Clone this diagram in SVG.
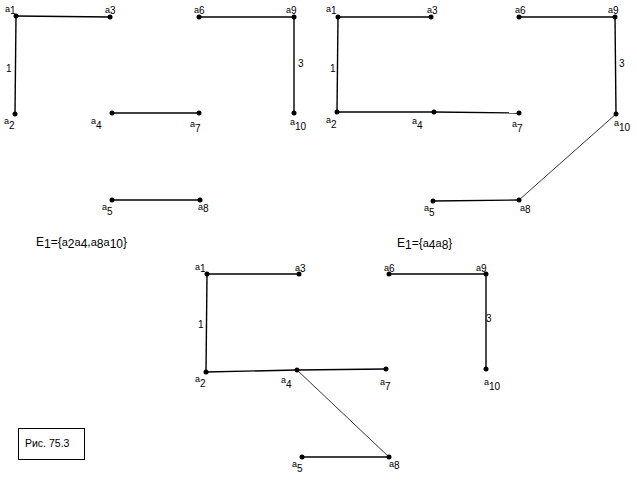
<svg xmlns="http://www.w3.org/2000/svg" width="637" height="484" viewBox="0 0 637 484">
<style>
text{font-family:"Liberation Sans",Arial,sans-serif;font-size:10px;fill:#000}
.a{font-size:9px}
text.e{font-size:12px}
text.e .a{font-size:11px}
line{stroke:#000;stroke-width:1.4}
line.thin{stroke-width:0.8}
circle{fill:#000}
</style>
<rect width="637" height="484" fill="#fff"/>
<g id="connectors">
<line x1="16" y1="16" x2="110" y2="17"/>
<line x1="16" y1="16" x2="15" y2="114"/>
<line x1="199" y1="17" x2="294" y2="17"/>
<line x1="294" y1="17" x2="294" y2="113"/>
<line x1="112" y1="113" x2="199" y2="113"/>
<line x1="112" y1="200" x2="200" y2="200"/>
<line x1="338" y1="17" x2="431" y2="17"/>
<line x1="338" y1="17" x2="337" y2="112"/>
<line x1="337" y1="112" x2="434" y2="112"/>
<line x1="434" y1="112" x2="519" y2="113"/>
<line x1="519" y1="17" x2="615" y2="17"/>
<line x1="615" y1="17" x2="616" y2="114"/>
<line class="thin" x1="616" y1="114" x2="519" y2="200"/>
<line x1="433" y1="201" x2="519" y2="200"/>
<line x1="207" y1="274" x2="299" y2="274"/>
<line x1="207" y1="274" x2="206" y2="372"/>
<line x1="206" y1="372" x2="297" y2="370"/>
<line x1="297" y1="370" x2="386" y2="369"/>
<line class="thin" x1="297" y1="370" x2="389" y2="457"/>
<line x1="302" y1="457" x2="389" y2="457"/>
<line x1="389" y1="274" x2="486" y2="274"/>
<line x1="486" y1="274" x2="486" y2="369"/>
</g>
<g id="g1">
<g id="g1-a1"><circle cx="16" cy="16" r="2.5"/><text x="5" y="12"><tspan class="a">a</tspan><tspan dy="2">1</tspan></text></g>
<g id="g1-a3"><circle cx="110" cy="17" r="2.5"/><text x="105" y="13"><tspan class="a">a</tspan><tspan dy="1">3</tspan></text></g>
<g id="g1-a6"><circle cx="199" cy="17" r="2.5"/><text x="194" y="13"><tspan class="a">a</tspan><tspan dy="1">6</tspan></text></g>
<g id="g1-a9"><circle cx="294" cy="17" r="2.5"/><text x="286" y="13"><tspan class="a">a</tspan><tspan dy="1">9</tspan></text></g>
<g id="g1-a2"><circle cx="15" cy="114" r="2.5"/><text x="4" y="124"><tspan class="a">a</tspan><tspan dy="5">2</tspan></text></g>
<g id="g1-a4"><circle cx="112" cy="113" r="2.5"/><text x="91" y="124"><tspan class="a">a</tspan><tspan dy="5">4</tspan></text></g>
<g id="g1-a7"><circle cx="199" cy="113" r="2.5"/><text x="190" y="127"><tspan class="a">a</tspan><tspan dy="5">7</tspan></text></g>
<g id="g1-a10"><circle cx="294" cy="113" r="2.5"/><text x="290" y="125"><tspan class="a">a</tspan><tspan dy="5">10</tspan></text></g>
<g id="g1-a5"><circle cx="112" cy="200" r="2.5"/><text x="102" y="210"><tspan class="a">a</tspan><tspan dy="5">5</tspan></text></g>
<g id="g1-a8"><circle cx="200" cy="200" r="2.5"/><text x="198" y="210"><tspan class="a">a</tspan><tspan dy="2">8</tspan></text></g>
<text x="6" y="72">1</text>
<text x="298" y="67">3</text>
</g>
<g id="g2">
<g id="g2-a1"><circle cx="338" cy="17" r="2.5"/><text x="326" y="12"><tspan class="a">a</tspan><tspan dy="2">1</tspan></text></g>
<g id="g2-a3"><circle cx="431" cy="17" r="2.5"/><text x="427" y="13"><tspan class="a">a</tspan><tspan dy="1">3</tspan></text></g>
<g id="g2-a6"><circle cx="519" cy="17" r="2.5"/><text x="515" y="13"><tspan class="a">a</tspan><tspan dy="1">6</tspan></text></g>
<g id="g2-a9"><circle cx="615" cy="17" r="2.5"/><text x="608" y="13"><tspan class="a">a</tspan><tspan dy="1">9</tspan></text></g>
<g id="g2-a2"><circle cx="337" cy="112" r="2.5"/><text x="326" y="123"><tspan class="a">a</tspan><tspan dy="5">2</tspan></text></g>
<g id="g2-a4"><circle cx="434" cy="112" r="2.5"/><text x="412" y="124"><tspan class="a">a</tspan><tspan dy="5">4</tspan></text></g>
<g id="g2-a7"><circle cx="519" cy="113" r="2.5"/><text x="512" y="127"><tspan class="a">a</tspan><tspan dy="5">7</tspan></text></g>
<g id="g2-a10"><circle cx="616" cy="114" r="2.5"/><text x="614" y="126"><tspan class="a">a</tspan><tspan dy="5">10</tspan></text></g>
<g id="g2-a5"><circle cx="433" cy="201" r="2.5"/><text x="424" y="211"><tspan class="a">a</tspan><tspan dy="5">5</tspan></text></g>
<g id="g2-a8"><circle cx="519" cy="200" r="2.5"/><text x="520" y="211"><tspan class="a">a</tspan><tspan dy="2">8</tspan></text></g>
<text x="330" y="72">1</text>
<text x="619" y="67">3</text>
</g>
<g id="g3">
<g id="g3-a1"><circle cx="207" cy="274" r="2.5"/><text x="195" y="270"><tspan class="a">a</tspan><tspan dy="2">1</tspan></text></g>
<g id="g3-a3"><circle cx="299" cy="274" r="2.5"/><text x="295" y="271"><tspan class="a">a</tspan><tspan dy="1">3</tspan></text></g>
<g id="g3-a6"><circle cx="389" cy="274" r="2.5"/><text x="384" y="271"><tspan class="a">a</tspan><tspan dy="1">6</tspan></text></g>
<g id="g3-a9"><circle cx="486" cy="274" r="2.5"/><text x="476" y="271"><tspan class="a">a</tspan><tspan dy="1">9</tspan></text></g>
<g id="g3-a2"><circle cx="206" cy="372" r="2.5"/><text x="195" y="382"><tspan class="a">a</tspan><tspan dy="5">2</tspan></text></g>
<g id="g3-a4"><circle cx="297" cy="370" r="2.5"/><text x="281" y="383"><tspan class="a">a</tspan><tspan dy="5">4</tspan></text></g>
<g id="g3-a7"><circle cx="386" cy="369" r="2.5"/><text x="380" y="385"><tspan class="a">a</tspan><tspan dy="5">7</tspan></text></g>
<g id="g3-a10"><circle cx="486" cy="369" r="2.5"/><text x="484" y="385"><tspan class="a">a</tspan><tspan dy="5">10</tspan></text></g>
<g id="g3-a5"><circle cx="302" cy="457" r="2.5"/><text x="292" y="467"><tspan class="a">a</tspan><tspan dy="5">5</tspan></text></g>
<g id="g3-a8"><circle cx="389" cy="457" r="2.5"/><text x="389" y="467"><tspan class="a">a</tspan><tspan dy="2">8</tspan></text></g>
<text x="198" y="328">1</text>
<text x="486" y="322">3</text>
</g>
<g id="e1-left"><text class="e" x="36" y="246">E<tspan dy="2">1</tspan><tspan dy="-2">={</tspan><tspan class="a">a</tspan><tspan dy="2">2</tspan><tspan class="a" dy="-2">a</tspan><tspan dy="2">4</tspan><tspan dy="-2">,</tspan><tspan class="a">a</tspan><tspan dy="2">8</tspan><tspan class="a" dy="-2">a</tspan><tspan dy="2">10</tspan><tspan dy="-2">}</tspan></text></g>
<g id="e1-right"><text class="e" x="397" y="247">E<tspan dy="2">1</tspan><tspan dy="-2">={</tspan><tspan class="a">a</tspan><tspan dy="2">4</tspan><tspan class="a" dy="-2">a</tspan><tspan dy="2">8</tspan><tspan dy="-2">}</tspan></text></g>
<g id="caption"><rect x="18.5" y="428.5" width="66" height="31" fill="#fff" stroke="#000" stroke-width="1"/><text x="25" y="447" style="font-size:10.5px">Рис. 75.3</text></g>
</svg>
